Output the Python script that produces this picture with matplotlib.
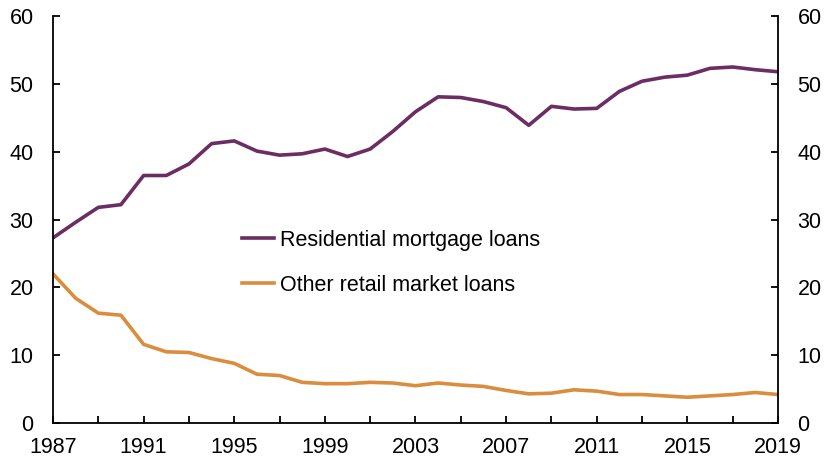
import matplotlib
matplotlib.use("Agg")
import matplotlib.pyplot as plt

years = list(range(1987, 2020))
residential = [27.3, 29.6, 31.8, 32.2, 36.5, 36.5, 38.2, 41.2, 41.6, 40.1, 39.5,
               39.7, 40.4, 39.3, 40.4, 43.0, 45.9, 48.1, 48.0, 47.4, 46.5, 43.9,
               46.7, 46.3, 46.4, 48.9, 50.4, 51.0, 51.3, 52.3, 52.5, 52.1, 51.8]
other = [22.0, 18.4, 16.2, 15.9, 11.6, 10.5, 10.4, 9.5, 8.8, 7.2, 7.0,
         6.0, 5.8, 5.8, 6.0, 5.9, 5.5, 5.9, 5.6, 5.4, 4.8, 4.3,
         4.4, 4.9, 4.7, 4.2, 4.2, 4.0, 3.8, 4.0, 4.2, 4.5, 4.2]
labels = ["Residential mortgage loans", "Other retail market loans"]
xtick_labels = list(range(1987, 2020, 4))
yticks = [0, 10, 20, 30, 40, 50, 60]

plt.rcParams['font.family'] = ['Liberation Sans', 'DejaVu Sans']
fs = 15.5

fig = plt.figure(figsize=(8.28, 4.61), dpi=100)
ax = fig.add_axes([0.064, 0.0824, 0.8756, 0.8826])
ax.plot(years, residential, color="#6B2D63", lw=2.6, label=labels[0])
ax.plot(years, other, color="#DA8D3E", lw=2.6, label=labels[1])
ax.set_xlim(1987, 2019)
ax.set_ylim(0, 60)
ax.set_yticks(yticks)
ax.set_xticks(list(range(1987, 2020, 2)))
ax.set_xticklabels([str(y) if y in xtick_labels else "" for y in range(1987, 2020, 2)])
ax.spines['top'].set_visible(False)
for s in ['left', 'right', 'bottom']:
    ax.spines[s].set_linewidth(1.3)
ax.tick_params(direction='in', length=5, width=1.3, labelsize=fs)
ax.tick_params(axis='y', right=True, labelright=True, pad=14)
ax.tick_params(axis='x', pad=10)

leg = ax.legend(loc='center left', bbox_to_anchor=(0.2335, 0.394), frameon=False,
                handlelength=1.52, handletextpad=0.28, labelspacing=1.12,
                fontsize=fs, borderpad=0.4)

fig.savefig("out.png", dpi=100)
